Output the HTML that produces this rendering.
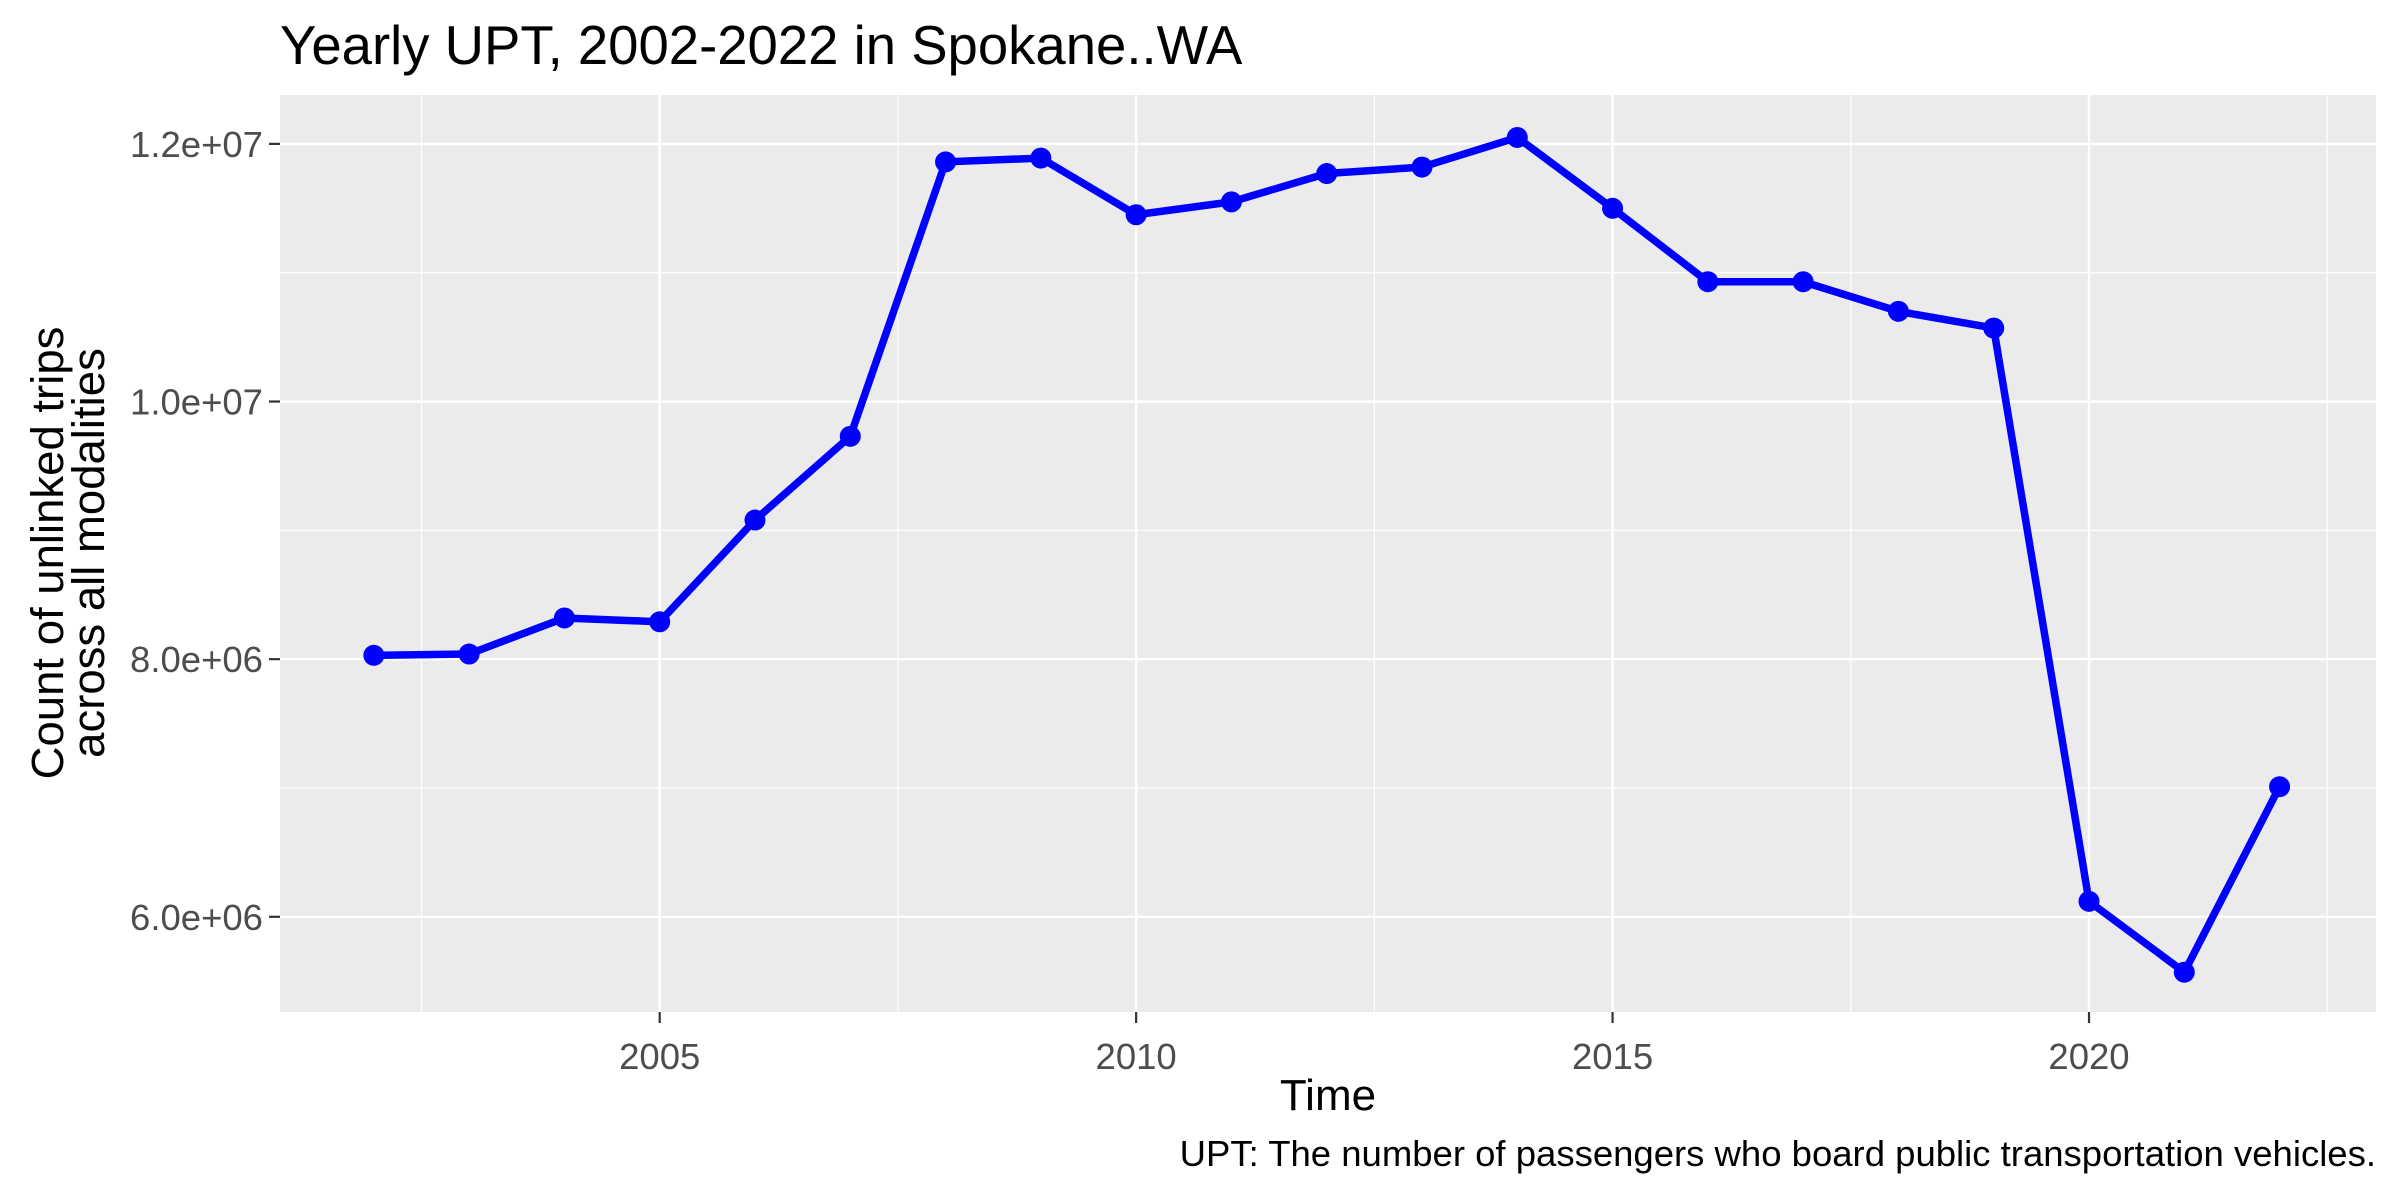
<!DOCTYPE html>
<html><head><meta charset="utf-8"><style>
html,body{margin:0;padding:0;background:#fff;}
svg{display:block;font-family:"Liberation Sans",Arial,sans-serif;}
</style></head><body>
<svg id="chart" width="2400" height="1200" viewBox="0 0 2400 1200">
<rect width="2400" height="1200" fill="#fff"/>
<text x="280" y="64" font-size="54.5" fill="#000">Yearly UPT, 2002-2022 in Spokane..WA</text>
<rect x="280" y="95" width="2096" height="917" fill="#EBEBEB"/>
<g id="grid"></g>
<g id="axes"></g>
<g id="series"></g>
<text x="1328" y="1110" font-size="44" text-anchor="middle" fill="#000">Time</text>
<text transform="translate(0,553) rotate(-90)" font-size="45.5" text-anchor="middle" fill="#000"><tspan x="0" y="63">Count of unlinked trips</tspan><tspan x="0" y="104">across all modalities</tspan></text>
<text x="2376" y="1166" font-size="36.5" text-anchor="end" fill="#000">UPT: The number of passengers who board public transportation vehicles.</text>
</svg>
<script>
const years=[2002,2003,2004,2005,2006,2007,2008,2009,2010,2011,2012,2013,2014,2015,2016,2017,2018,2019,2020,2021,2022];
const upt=[8.03e6,8.04e6,8.32e6,8.29e6,9.08e6,9.73e6,11.86e6,11.89e6,11.45e6,11.55e6,11.77e6,11.82e6,12.05e6,11.50e6,10.93e6,10.93e6,10.70e6,10.57e6,6.12e6,5.57e6,7.01e6];
const yTicks=[6e6,8e6,10e6,12e6];
const yTickLabels=["6.0e+06","8.0e+06","1.0e+07","1.2e+07"];
const yMinor=[7e6,9e6,11e6];
const xTicks=[2005,2010,2015,2020];
const xMinor=[2002.5,2007.5,2012.5,2017.5,2022.5];

const NS="http://www.w3.org/2000/svg";
const L=280,R=2376,T=95,B=1012;
function xs(v){return 659.7+(v-2005)*(2089-659.7)/15;}
function ys(v){return 916.8-(v-6e6)*(916.8-143.9)/6e6;}
function mk(tag,attrs,parent){const e=document.createElementNS(NS,tag);for(const k in attrs)e.setAttribute(k,attrs[k]);parent.appendChild(e);return e;}
const grid=document.getElementById('grid'),axes=document.getElementById('axes'),series=document.getElementById('series');
yMinor.forEach(v=>{const l=mk('line',{x1:L,x2:R,y1:ys(v),y2:ys(v),stroke:'#fff','stroke-width':1.2},grid);

});
xMinor.forEach(v=>{const l=mk('line',{x1:xs(v),x2:xs(v),y1:T,y2:B,stroke:'#fff','stroke-width':1.2},grid);

});
yTicks.forEach((v,i)=>{const y=ys(v);
const g=mk('line',{x1:L,x2:R,y1:y,y2:y,stroke:'#fff','stroke-width':2.4},grid);


const t=mk('line',{x1:269,x2:L,y1:y,y2:y,stroke:'#333','stroke-width':2.2},axes);


const tx=mk('text',{x:263,y:y+13,'font-size':36.5,'text-anchor':'end',fill:'#4D4D4D'},axes);tx.textContent=yTickLabels[i];

});
xTicks.forEach(v=>{const x=xs(v);
const g=mk('line',{x1:x,x2:x,y1:T,y2:B,stroke:'#fff','stroke-width':2.4},grid);


const t=mk('line',{x1:x,x2:x,y1:B,y2:B+11,stroke:'#333','stroke-width':2.2},axes);


const tx=mk('text',{x:x,y:1069,'font-size':36.5,'text-anchor':'middle',fill:'#4D4D4D'},axes);tx.textContent=v;

});
const pts=years.map((y,i)=>xs(y)+','+ys(upt[i])).join(' ');
const pl=mk('polyline',{points:pts,fill:'none',stroke:'#0000FF','stroke-width':7.5,'stroke-linejoin':'round'},series);


years.forEach((y,i)=>{const c=mk('circle',{cx:xs(y),cy:ys(upt[i]),r:10.5,fill:'#0000FF'},series);

});
</script>
</body></html>
